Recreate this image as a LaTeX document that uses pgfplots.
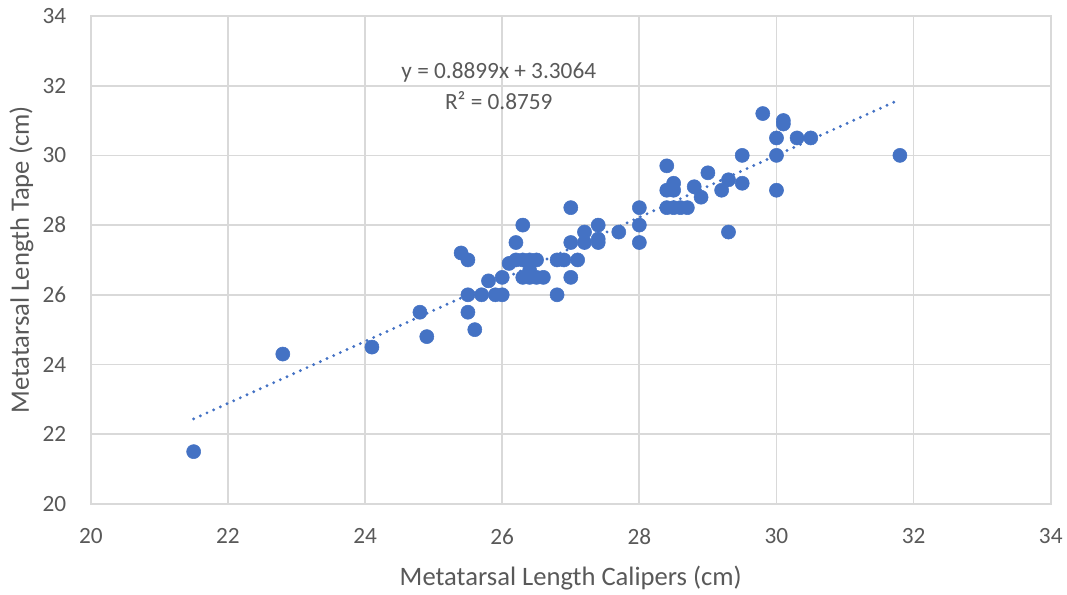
\documentclass[border=0pt]{standalone}
\usepackage{fontspec}
\setmainfont{Carlito}
\usepackage{pgfplots}
\pgfplotsset{compat=1.18}
\definecolor{markblue}{HTML}{4472C4}
\definecolor{gridgrey}{HTML}{D9D9D9}
\definecolor{textgrey}{HTML}{595959}
\begin{document}
\begin{tikzpicture}
\begin{axis}[
  name=ax,
  scale only axis=true,
  width=721.5pt, height=366.75pt,
  xmin=20, xmax=34, ymin=20, ymax=34,
  xtick={20,22,...,34}, ytick={20,22,...,34},
  grid=major,
  grid style={gridgrey, line width=1.3pt},
  axis line style={gridgrey, line width=1.3pt},
  tick style={draw=none},
  /pgf/number format/assume math mode=true,
  ticklabel style={font=\fontsize{17.5}{20}\selectfont, text=textgrey},
  xticklabel style={yshift=-15pt},
  yticklabel style={xshift=-15pt},
  xlabel={Metatarsal Length Calipers (cm)},
  ylabel={Metatarsal Length Tape (cm)},
  label style={font=\fontsize{20}{22}\selectfont, text=textgrey},
  xlabel style={yshift=-9pt},
  ylabel style={yshift=0pt},
  clip=false,
]
% measurements
\addplot[only marks, mark=*, mark size=5.3pt,
  mark options={fill=markblue, draw=markblue}] coordinates {
  (21.5,21.5) (22.8,24.3) (24.1,24.5) (24.8,25.5) (24.9,24.8)
  (25.4,27.2) (25.5,27.0) (25.5,26.0) (25.5,25.5) (25.6,25.0)
  (25.7,26.0) (25.8,26.4) (25.9,26.0) (26.0,26.0) (26.0,26.5)
  (26.2,27.5) (26.3,28.0)
  (26.1,26.9) (26.2,27.0) (26.3,27.0) (26.4,27.0) (26.5,27.0)
  (26.4,26.7) (26.3,26.5) (26.4,26.5) (26.5,26.5) (26.6,26.5)
  (26.8,26.0) (26.8,27.0) (26.9,27.0) (27.0,26.5) (27.0,27.5)
  (27.0,28.5) (27.1,27.0) (27.2,27.8) (27.2,27.5) (27.4,28.0)
  (27.4,27.5) (27.4,27.6) (27.7,27.8) (28.0,28.5) (28.0,28.0)
  (28.0,27.5)
  (28.4,29.7) (28.4,29.0) (28.5,29.2) (28.5,29.0)
  (28.4,28.5) (28.5,28.5) (28.6,28.5) (28.7,28.5)
  (28.8,29.1) (28.9,28.8) (29.0,29.5) (29.2,29.0) (29.3,29.3)
  (29.3,27.8) (29.5,30.0) (29.5,29.2) (29.8,31.2) (30.0,30.5)
  (30.0,30.0) (30.0,29.0) (30.1,31.0) (30.1,30.9) (30.3,30.5)
  (30.5,30.5) (31.8,30.0)
};
% linear trend y = 0.8899x + 3.3064 over the data range
\addplot[markblue, line width=2.4pt, line cap=round,
  dash pattern=on 0pt off 5.5pt] coordinates {
  (21.5,22.4393) (31.8,31.6052)
};
\node[font=\fontsize{17.5}{20}\selectfont, text=textgrey] at (axis cs:25.95,32.38) {y = 0.8899x + 3.3064};
\node[font=\fontsize{17.5}{20}\selectfont, text=textgrey] at (axis cs:25.95,31.58) {R² = 0.8759};
\end{axis}
\path (ax.south west) ++(-68.25pt,-66.75pt) rectangle ++(800.25pt,445.5pt);
\end{tikzpicture}
\end{document}
